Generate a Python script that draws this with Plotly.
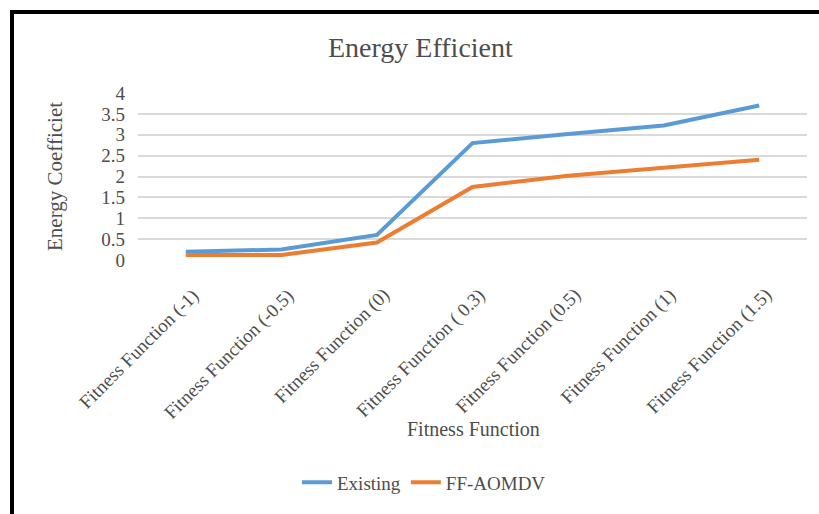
import plotly.graph_objects as go

# Chart data
categories = [
    "Fitness Function (-1)",
    "Fitness Function (-0.5)",
    "Fitness Function (0)",
    "Fitness Function ( 0.3)",
    "Fitness Function (0.5)",
    "Fitness Function (1)",
    "Fitness Function (1.5)",
]
existing = [0.2, 0.25, 0.6, 2.8, 3.02, 3.22, 3.7]
ff_aomdv = [0.12, 0.12, 0.42, 1.75, 2.02, 2.22, 2.4]
y_ticks = [0, 0.5, 1, 1.5, 2, 2.5, 3, 3.5, 4]

FONT = "Liberation Serif, Times New Roman, serif"
GRAY = "#4d4d4d"

W, H = 819, 514
L, R, T, B = 138, 12, 93, 252
pw, ph = W - L - R, H - T - B


def px(x):
    return (x - L) / pw


def py(y):
    return (H - B - y) / ph


fig = go.Figure()
fig.add_trace(go.Scatter(x=categories, y=existing, name="Existing", mode="lines",
                         line=dict(color="#5B9BD5", width=4)))
fig.add_trace(go.Scatter(x=categories, y=ff_aomdv, name="FF-AOMDV", mode="lines",
                         line=dict(color="#ED7D31", width=4)))

fig.update_layout(
    width=W, height=H,
    margin=dict(l=L, r=R, t=T, b=B),
    paper_bgcolor="white", plot_bgcolor="white",
    font=dict(family=FONT, color=GRAY, size=16),
    showlegend=True,
    legend=dict(orientation="h", x=px(424), xanchor="center", y=py(487), yanchor="middle",
                font=dict(family=FONT, size=19, color=GRAY), traceorder="normal",
                itemwidth=30, bgcolor="rgba(0,0,0,0)"),
    xaxis=dict(type="category", range=[-0.5, len(categories) - 0.5], showgrid=False,
               showline=False, zeroline=False, showticklabels=False, ticks=""),
    yaxis=dict(range=[0, 4], tickvals=y_ticks, ticktext=[f"{v:g}" for v in y_ticks],
               showgrid=True, gridcolor="#D9D9D9", gridwidth=2, zeroline=False, showline=False,
               tickfont=dict(family=FONT, size=19, color=GRAY), ticks="", ticklabelstandoff=12),
)

annotations = [
    dict(text="Energy Efficient", x=px(420), y=py(47), xref="paper", yref="paper",
         showarrow=False, font=dict(family=FONT, size=28, color=GRAY),
         xanchor="center", yanchor="middle"),
    dict(text="Energy Coefficiet", x=px(55), y=py(178), xref="paper", yref="paper",
         showarrow=False, textangle=-90, font=dict(family=FONT, size=21, color=GRAY),
         xanchor="center", yanchor="middle"),
    dict(text="Fitness Function", x=px(473), y=py(433), xref="paper", yref="paper",
         showarrow=False, font=dict(family=FONT, size=20, color=GRAY),
         xanchor="center", yanchor="middle"),
]
# Slanted category labels, anchored at each category position
for cat in categories:
    annotations.append(dict(text=cat, x=cat, xref="x", y=py(284), yref="paper",
                            showarrow=False, textangle=-45, xshift=20,
                            xanchor="right", yanchor="top",
                            font=dict(family=FONT, size=19, color=GRAY)))
fig.update_layout(annotations=annotations)

# Outer frame: thick black rule along the left and top edges
fx, fy = px(12), py(11)
fig.add_shape(type="line", xref="paper", yref="paper", x0=fx, x1=fx, y0=py(H + 10), y1=fy,
              line=dict(color="black", width=4))
fig.add_shape(type="line", xref="paper", yref="paper", x0=fx - 2 / pw, x1=px(W + 10), y0=fy, y1=fy,
              line=dict(color="black", width=4))

fig.write_html("out.html")
